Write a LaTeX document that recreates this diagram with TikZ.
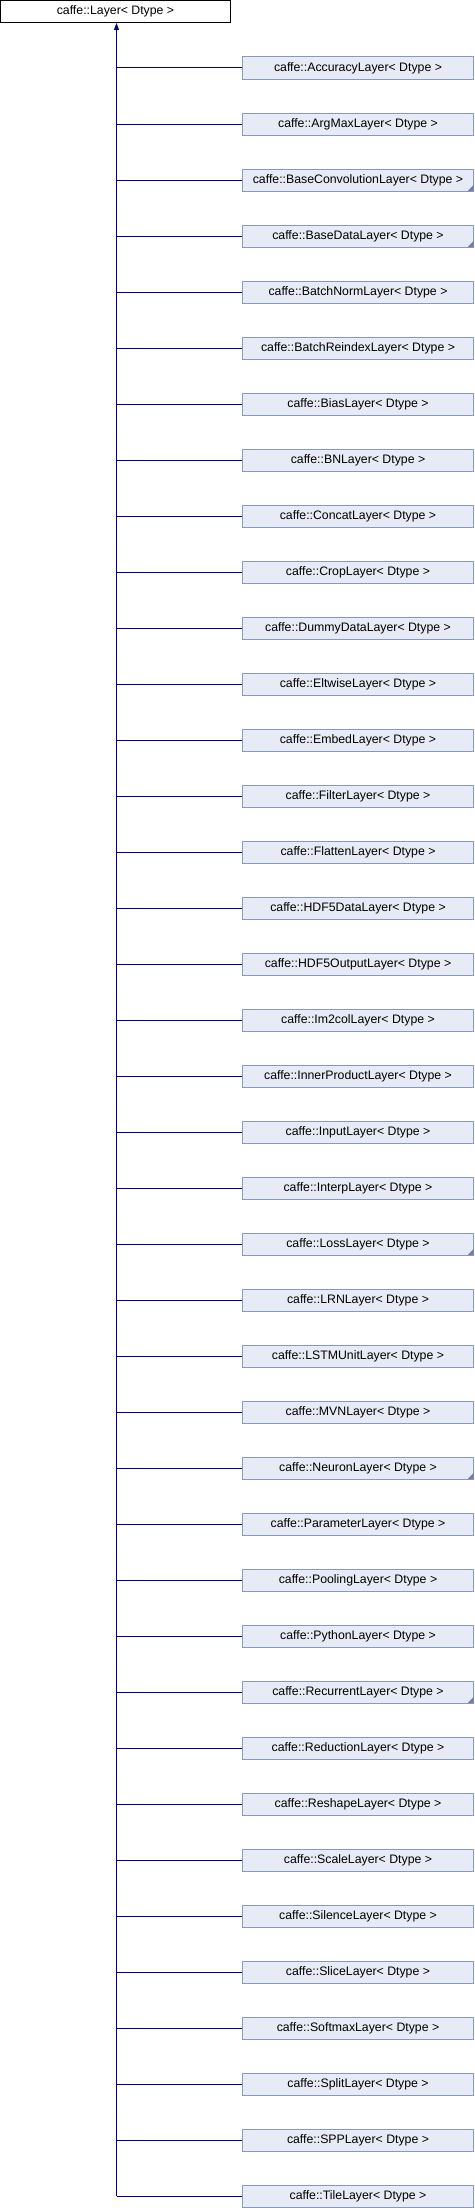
\documentclass[tikz,border=0pt]{standalone}
\usepackage{fontspec}
\setmainfont{Liberation Sans}
\usetikzlibrary{arrows.meta}
\definecolor{boxfill}{HTML}{E6EBF5}
\definecolor{boxdraw}{HTML}{8797C8}
\definecolor{linkcol}{HTML}{00008B}
\tikzset{
  parentbox/.style={draw=black, fill=white, line width=1pt, minimum width=230pt, minimum height=22pt, inner sep=0pt, font=\fontsize{12.3pt}{14pt}\selectfont},
  childbox/.style={draw=boxdraw, fill=boxfill, line width=1pt, minimum width=231pt, minimum height=22pt, inner sep=0pt, font=\fontsize{12.3pt}{14pt}\selectfont},
  link/.style={draw=linkcol, line width=1pt},
  corner/.style={fill=boxdraw!85!black}
}
\begin{document}
\begin{tikzpicture}[x=1pt,y=-1pt]
\useasboundingbox (0,0) rectangle (474,2208);
\node[parentbox] (layer) at (115.5,11.5) {caffe::Layer< Dtype >};
\coordinate (bot) at (116.5,2196);
\foreach \name [count=\i from 0] in {AccuracyLayer,ArgMaxLayer,BaseConvolutionLayer,BaseDataLayer,BatchNormLayer,BatchReindexLayer,BiasLayer,BNLayer,ConcatLayer,CropLayer,DummyDataLayer,EltwiseLayer,EmbedLayer,FilterLayer,FlattenLayer,HDF5DataLayer,HDF5OutputLayer,Im2colLayer,InnerProductLayer,InputLayer,InterpLayer,LossLayer,LRNLayer,LSTMUnitLayer,MVNLayer,NeuronLayer,ParameterLayer,PoolingLayer,PythonLayer,RecurrentLayer,ReductionLayer,ReshapeLayer,ScaleLayer,SilenceLayer,SliceLayer,SoftmaxLayer,SplitLayer,SPPLayer,TileLayer}{
  \node[childbox] (c\i) at (358,68+56*\i) {caffe::\name< Dtype >};
  \draw[link] (c\i.west) -- (c\i.west -| bot);
}
\foreach \i in {2,3,21,25,29}{
  \fill[corner] ([shift={(-0.5,-0.5)}]c\i.south east) -- ++(0,-6) -- ++(-6,6) -- cycle;
}
\draw[link, -{Triangle[length=7pt,width=5pt]}] (bot) -- (bot |- layer.south);
\end{tikzpicture}
\end{document}
